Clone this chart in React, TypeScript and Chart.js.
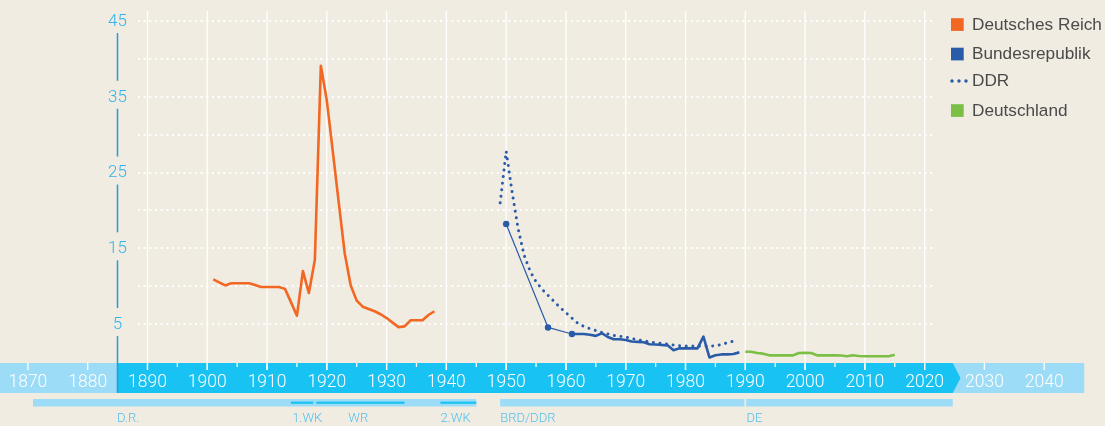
import React, { useEffect, useRef } from "react";
import { Chart, registerables } from "chart.js";

Chart.register(...registerables);

// ---------- data ----------
const drYears = [1901, 1902, 1903, 1904, 1905, 1906, 1907, 1908, 1909, 1910, 1911, 1912, 1913, 1914, 1915, 1916, 1917, 1918, 1919, 1920, 1921, 1922, 1923, 1924, 1925, 1926, 1927, 1928, 1929, 1930, 1931, 1932, 1933, 1934, 1935, 1936, 1937, 1938];
const drValues = [10.9, 10.5, 10.1, 10.4, 10.4, 10.4, 10.4, 10.15, 9.9, 9.9, 9.9, 9.9, 9.65, 7.9, 6.1, 12.0, 9.1, 13.5, 39.1, 34.5, 27.8, 21.0, 14.3, 10.1, 8.1, 7.3, 7.0, 6.7, 6.3, 5.8, 5.2, 4.6, 4.7, 5.5, 5.5, 5.5, 6.2, 6.7];

const brdYears = [1950, 1957, 1961, 1962, 1963, 1964, 1965, 1966, 1967, 1968, 1969, 1970, 1971, 1972, 1973, 1974, 1975, 1976, 1977, 1978, 1979, 1980, 1981, 1982, 1983, 1984, 1985, 1986, 1987, 1988, 1989];
const brdValues = [18.2, 4.56, 3.7, 3.7, 3.7, 3.6, 3.45, 3.8, 3.3, 3.0, 3.0, 2.9, 2.7, 2.65, 2.6, 2.35, 2.3, 2.25, 2.2, 1.55, 1.8, 1.8, 1.8, 1.8, 3.35, 0.6, 0.9, 1.0, 1.0, 1.05, 1.27];

const ddrYears = [1949, 1950, 1951, 1952, 1953, 1954, 1955, 1956, 1957, 1958, 1959, 1960, 1961, 1962, 1963, 1964, 1965, 1966, 1967, 1968, 1969, 1970, 1971, 1972, 1973, 1974, 1975, 1976, 1977, 1978, 1979, 1980, 1981, 1982, 1983, 1984, 1985, 1986, 1987, 1988];
const ddrValues = [21.0, 27.8, 22.4, 17.6, 14.1, 12.0, 10.6, 9.6, 8.8, 8.0, 7.2, 6.5, 5.8, 5.1, 4.7, 4.4, 4.15, 3.9, 3.7, 3.5, 3.4, 3.3, 3.1, 2.9, 2.8, 2.65, 2.55, 2.45, 2.35, 2.25, 2.15, 2.1, 2.1, 2.1, 2.1, 2.1, 2.15, 2.3, 2.55, 2.75];

const deYears = [1990, 1991, 1992, 1993, 1994, 1995, 1996, 1997, 1998, 1999, 2000, 2001, 2002, 2003, 2004, 2005, 2006, 2007, 2008, 2009, 2010, 2011, 2012, 2013, 2014, 2015];
const deValues = [1.36, 1.36, 1.18, 1.1, 0.88, 0.88, 0.88, 0.88, 0.88, 1.18, 1.2, 1.18, 0.88, 0.88, 0.88, 0.88, 0.85, 0.75, 0.9, 0.8, 0.75, 0.75, 0.75, 0.75, 0.75, 0.97];

const seriesNames = ["Deutsches Reich", "Bundesrepublik", "DDR", "Deutschland"];

const xTickYears = [1870, 1880, 1890, 1900, 1910, 1920, 1930, 1940, 1950, 1960, 1970, 1980, 1990, 2000, 2010, 2020, 2030, 2040];
const gridYears = [1890, 1900, 1910, 1920, 1930, 1940, 1950, 1960, 1970, 1980, 1990, 2000, 2010, 2020];
const minorTickYears = [1895, 1905, 1915, 1925, 1935, 1945, 1955, 1965, 1975, 1985, 1995, 2005, 2015];
const yTickValues = [45, 35, 25, 15, 5];
const yGridValues = [5, 10, 15, 20, 25, 30, 35, 40, 45];

const periodLabels = ["D.R.", "BRD/DDR", "DE"];
const periodStarts = [1870.85, 1949.0, 1990.15];
const periodEnds = [1945.0, 1989.85, 2024.7];
const periodLabelYears = [1884.9, 1949.0, 1990.2];

const eventLabels = ["1.WK", "WR", "2.WK"];
const eventStarts = [1914.0, 1918.25, 1939.0];
const eventEnds = [1917.7, 1933.0, 1945.0];
const eventLabelYears = [1914.2, 1923.6, 1939.0];

// ---------- styles ----------
const BG = "#f0ece2";
const ORANGE = "#f26722";
const BLUE = "#2a5ba8";
const GREEN = "#7bbf45";
const BAND_DARK = "#18c2f2";
const BAND_LIGHT = "#9ddcf7";
const AXIS_BLUE = "#1f9fd8";
const LABEL_BLUE = "#30b4ea";
const PERIOD_TEXT = "#55c0ec";
const LIGHT_FONT = "Roboto, 'Liberation Sans', Arial, sans-serif";

const Y_AXIS_YEAR = 1884.9;
const GRID_FROM_YEAR = 1888.4;
const GRID_TO_YEAR = 2021.6;
const LIGHT_BAND_END_YEAR = 2046.7;
const DARK_BAND_END_YEAR = 2024.7;
const DARK_BAND_TIP_YEAR = 2026.0;

const pts = (xs: number[], ys: number[]) => xs.map((x, i) => ({ x, y: ys[i] }));

const decorPlugin = {
  id: "decor",
  beforeDraw(chart: any) {
    const { ctx, scales } = chart;
    const xs = scales.x;
    const ys = scales.y;
    const X = (v: number) => xs.getPixelForValue(v);
    const Y = (v: number) => ys.getPixelForValue(v);
    const y0 = Y(0);
    const bandTop = Math.round(y0) + 1;
    const bandH = 30;
    ctx.save();
    ctx.fillStyle = BG;
    ctx.fillRect(0, 0, chart.width, chart.height);

    // band light
    ctx.fillStyle = BAND_LIGHT;
    ctx.fillRect(0, bandTop, X(LIGHT_BAND_END_YEAR), bandH);
    // band dark arrow
    ctx.fillStyle = BAND_DARK;
    ctx.beginPath();
    ctx.moveTo(X(Y_AXIS_YEAR), bandTop);
    ctx.lineTo(X(DARK_BAND_END_YEAR), bandTop);
    ctx.lineTo(X(DARK_BAND_TIP_YEAR), bandTop + bandH / 2);
    ctx.lineTo(X(DARK_BAND_END_YEAR), bandTop + bandH);
    ctx.lineTo(X(Y_AXIS_YEAR), bandTop + bandH);
    ctx.closePath();
    ctx.fill();

    // horizontal dotted grid
    ctx.strokeStyle = "#ffffff";
    ctx.lineWidth = 2;
    ctx.setLineDash([2, 3.7]);
    for (const v of yGridValues) {
      const yy = Math.round(Y(v));
      ctx.beginPath();
      ctx.moveTo(X(GRID_FROM_YEAR), yy);
      ctx.lineTo(X(GRID_TO_YEAR), yy);
      ctx.stroke();
    }
    ctx.setLineDash([]);

    // vertical grid lines
    ctx.lineWidth = 1.3;
    for (const yr of gridYears) {
      const xx = X(yr);
      ctx.beginPath();
      ctx.moveTo(xx, 11);
      ctx.lineTo(xx, bandTop + 7);
      ctx.stroke();
    }
    // major ticks in band
    for (const yr of xTickYears) {
      const xx = X(yr);
      ctx.beginPath();
      ctx.moveTo(xx, bandTop);
      ctx.lineTo(xx, bandTop + 7);
      ctx.stroke();
    }
    // minor ticks
    for (const yr of minorTickYears) {
      const xx = X(yr);
      ctx.beginPath();
      ctx.moveTo(xx, bandTop);
      ctx.lineTo(xx, bandTop + 4);
      ctx.stroke();
    }
    // x tick labels
    ctx.fillStyle = "#ffffff";
    ctx.font = `300 17.5px ${LIGHT_FONT}`;
    ctx.textAlign = "center";
    ctx.textBaseline = "middle";
    for (const yr of xTickYears) {
      ctx.fillText(String(yr), X(yr), bandTop + 19.5);
    }

    // y axis line with gaps around labels
    const ax = Math.round(X(Y_AXIS_YEAR)) + 0.5;
    ctx.strokeStyle = AXIS_BLUE;
    ctx.lineWidth = 1.5;
    for (const v of yTickValues) {
      const top = Y(v) + 12;
      const bottom = v - 10 > 0 ? Y(v - 10) - 16 : bandTop + bandH;
      ctx.beginPath();
      ctx.moveTo(ax, top);
      ctx.lineTo(ax, bottom);
      ctx.stroke();
    }
    ctx.fillStyle = LABEL_BLUE;
    ctx.font = `300 17px ${LIGHT_FONT}`;
    for (const v of yTickValues) {
      ctx.fillText(String(v), ax, Y(v) + 0.5);
    }

    // period bars
    const pTop = bandTop + bandH + 6;
    ctx.fillStyle = BAND_LIGHT;
    for (let i = 0; i < periodLabels.length; i++) {
      ctx.fillRect(X(periodStarts[i]), pTop, X(periodEnds[i]) - X(periodStarts[i]), 7.5);
    }
    ctx.fillStyle = BAND_DARK;
    for (let i = 0; i < eventLabels.length; i++) {
      ctx.fillRect(X(eventStarts[i]), pTop + 2.6, X(eventEnds[i]) - X(eventStarts[i]), 2.2);
    }
    ctx.fillStyle = PERIOD_TEXT;
    ctx.font = `300 13px ${LIGHT_FONT}`;
    ctx.textAlign = "left";
    const labelY = pTop + 19.5;
    for (let i = 0; i < periodLabels.length; i++) {
      ctx.fillText(periodLabels[i], X(periodLabelYears[i]), labelY);
    }
    for (let i = 0; i < eventLabels.length; i++) {
      ctx.fillText(eventLabels[i], X(eventLabelYears[i]), labelY);
    }
    ctx.restore();
  },
  afterDraw(chart: any) {
    const { ctx } = chart;
    ctx.save();
    const lx = 951;
    const rows = [24.5, 54, 81, 110.5];
    const colors = [ORANGE, BLUE, BLUE, GREEN];
    ctx.font = `17.2px 'Liberation Sans', Arial, sans-serif`;
    ctx.textAlign = "left";
    ctx.textBaseline = "middle";
    for (let i = 0; i < seriesNames.length; i++) {
      ctx.fillStyle = colors[i];
      if (i === 2) {
        for (let k = 0; k < 3; k++) {
          ctx.beginPath();
          ctx.arc(lx + 1 + k * 7, rows[i], 1.7, 0, Math.PI * 2);
          ctx.fill();
        }
      } else {
        ctx.fillRect(lx, rows[i] - 6.3, 12.7, 12.7);
      }
      ctx.fillStyle = "#4a4a4a";
      ctx.fillText(seriesNames[i], 972, rows[i] + 0.5);
    }
    ctx.restore();
  },
};

export default function App() {
  const ref = useRef<HTMLCanvasElement | null>(null);
  useEffect(() => {
    document.body.style.margin = "0";
    document.body.style.background = BG;
    if (!ref.current) return;
    const chart = new Chart(ref.current, {
      type: "line",
      data: {
        datasets: [
          {
            label: seriesNames[0],
            data: pts(drYears, drValues),
            borderColor: ORANGE,
            borderWidth: 2.6,
            pointRadius: 0,
            borderJoinStyle: "round",
            tension: 0,
          },
          {
            label: seriesNames[1],
            data: pts(brdYears, brdValues),
            borderColor: BLUE,
            backgroundColor: BLUE,
            borderWidth: 2.6,
            pointRadius: brdYears.map((y) => (y <= 1961 ? 3.2 : 0)),
            pointBackgroundColor: BLUE,
            pointBorderWidth: 0,
            borderJoinStyle: "round",
            tension: 0,
            segment: {
              borderWidth: (c: any) => (c.p1.parsed.x - c.p0.parsed.x > 1.5 ? 1.2 : 2.6),
            },
          },
          {
            label: seriesNames[2],
            data: pts(ddrYears, ddrValues),
            borderColor: BLUE,
            borderWidth: 3,
            borderDash: [0.01, 6.6],
            borderCapStyle: "round",
            pointRadius: 0,
            tension: 0,
          },
          {
            label: seriesNames[3],
            data: pts(deYears, deValues),
            borderColor: GREEN,
            borderWidth: 2.6,
            pointRadius: 0,
            borderJoinStyle: "round",
            tension: 0,
          },
        ],
      } as any,
      options: {
        animation: false,
        responsive: true,
        maintainAspectRatio: false,
        layout: { padding: { left: 4, right: 1, top: 3, bottom: 64 } },
        plugins: { legend: { display: false }, tooltip: { enabled: false } },
        events: [],
        scales: {
          x: { type: "linear", min: 1866, max: 2049.5, display: false },
          y: { type: "linear", min: 0, max: 47.24, display: false },
        },
      } as any,
      plugins: [decorPlugin],
    });
    return () => chart.destroy();
  }, []);
  return (
    <div style={{ position: "absolute", left: 0, top: 0, width: 1105, height: 426, background: BG }}>
      <canvas ref={ref} />
    </div>
  );
}
